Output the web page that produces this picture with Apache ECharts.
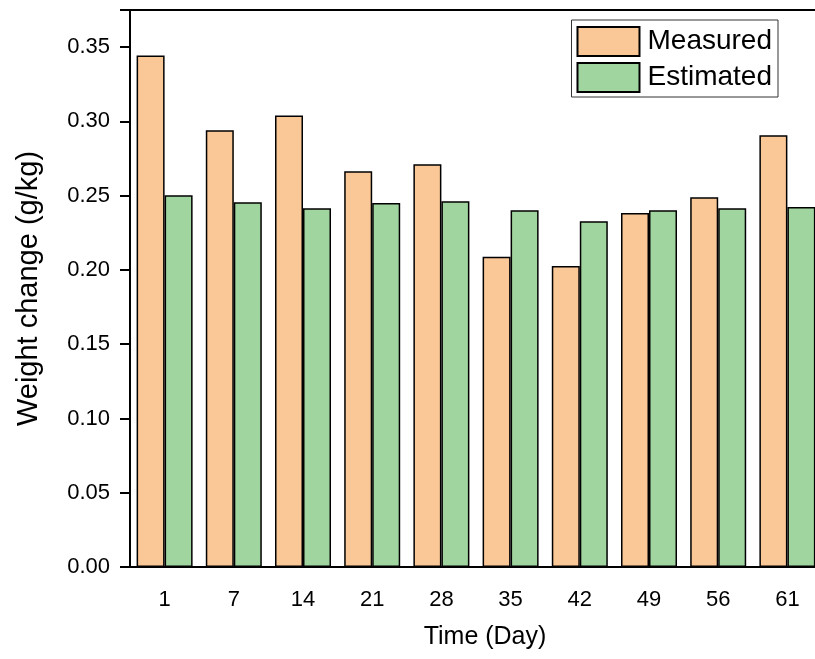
<!DOCTYPE html>
<html>
<head>
<meta charset="utf-8">
<script src="https://cdn.jsdelivr.net/npm/echarts@6/dist/echarts.min.js"></script>
<style>html,body{margin:0;padding:0;background:#fff;}#c{width:815px;height:659px;}</style>
</head>
<body>
<div id="c"></div>
<script>
var categories = ['1', '7', '14', '21', '28', '35', '42', '49', '56', '61'];
var measured = [0.3444, 0.2940, 0.3039, 0.2664, 0.2711, 0.2088, 0.2026, 0.2383, 0.2490, 0.2906];
var estimated = [0.2503, 0.2456, 0.2416, 0.2450, 0.2463, 0.2402, 0.2328, 0.2402, 0.2416, 0.2424];
var yTicks = [0, 0.05, 0.10, 0.15, 0.20, 0.25, 0.30, 0.35];

var FONT = 'Liberation Sans, Arial, sans-serif';
var chart = echarts.init(document.getElementById('c'), null, {renderer: 'canvas'});
chart.setOption({
  animation: false,
  backgroundColor: '#fff',
  textStyle: {fontFamily: FONT, color: '#000'},
  grid: {left: 130, top: 10, width: 692, height: 557, outerBoundsMode: 'none', containLabel: false},
  legend: {
    right: 37, top: 20, orient: 'vertical',
    icon: 'rect',
    itemWidth: 62, itemHeight: 29, itemGap: 5,
    padding: [6, 6, 4, 5],
    borderColor: '#333', borderWidth: 1,
    textStyle: {fontFamily: FONT, fontSize: 28, color: '#000', lineHeight: 29, padding: [0, 0, 0, 3]},
    data: ['Measured', 'Estimated']
  },
  xAxis: [{
    type: 'category', data: categories, position: 'bottom',
    name: 'Time (Day)', nameLocation: 'middle', nameGap: 58,
    nameTextStyle: {fontFamily: FONT, fontSize: 25, color: '#000', padding: [0, 0, 0, 18]},
    axisLine: {lineStyle: {color: '#000', width: 2}},
    axisTick: {alignWithLabel: true, length: 10, lineStyle: {color: '#000', width: 2}},
    axisLabel: {fontFamily: FONT, fontSize: 22, color: '#000', margin: 22}
  }, {
    type: 'category', data: categories, position: 'top',
    axisLine: {lineStyle: {color: '#000', width: 2}},
    axisTick: {show: false}, axisLabel: {show: false}
  }],
  yAxis: {
    type: 'value', min: 0, max: 0.375, interval: 0.05,
    name: 'Weight change (g/kg)', nameLocation: 'middle', nameGap: 87,
    nameTextStyle: {fontFamily: FONT, fontSize: 29, color: '#000'},
    axisLine: {show: true, lineStyle: {color: '#000', width: 2}},
    axisTick: {show: true, length: 10, lineStyle: {color: '#000', width: 2}},
    axisLabel: {fontFamily: FONT, fontSize: 22, color: '#000', margin: 20,
      formatter: function (v) { return yTicks.indexOf(Math.round(v * 100) / 100) >= 0 ? v.toFixed(2) : ''; }},
    splitLine: {show: false}
  },
  series: [{
    name: 'Measured', type: 'bar', data: measured,
    barWidth: 28, barGap: '0%',
    itemStyle: {color: '#FAC796', borderColor: '#000', borderWidth: 1.5}
  }, {
    name: 'Estimated', type: 'bar', data: estimated,
    barWidth: 28, barGap: '0%',
    itemStyle: {color: '#A1D59F', borderColor: '#000', borderWidth: 1.5}
  }]
});
</script>
</body>
</html>
